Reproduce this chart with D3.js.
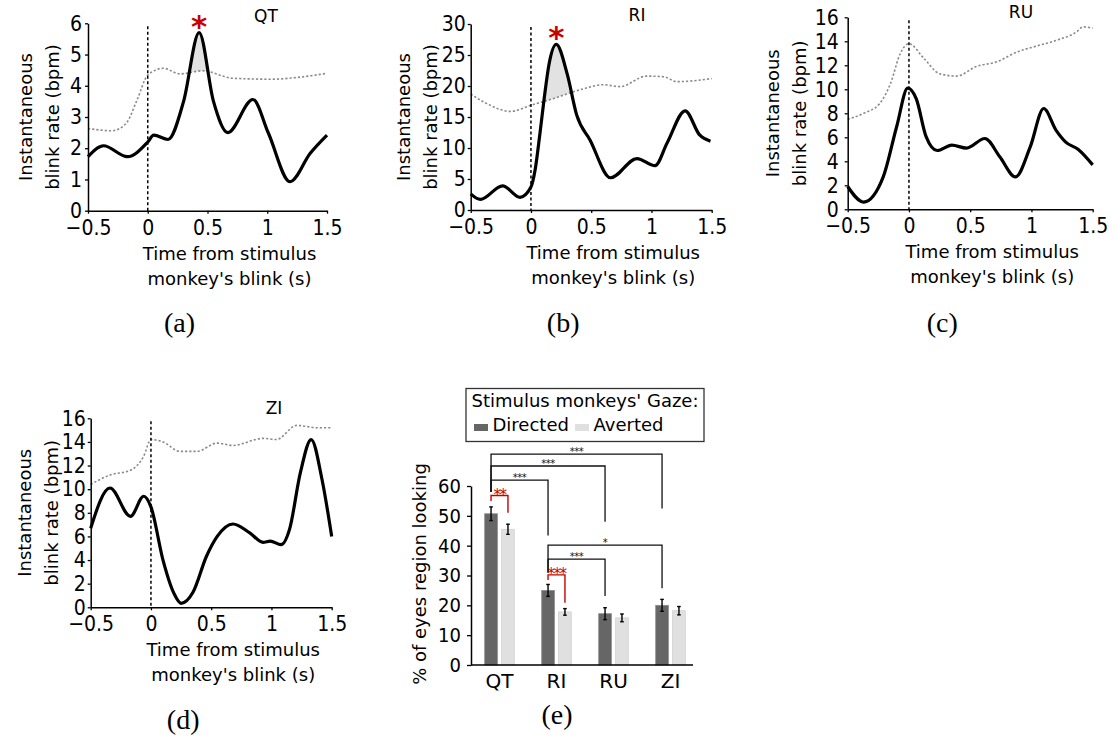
<!DOCTYPE html>
<html>
<head>
<meta charset="utf-8">
<script src="https://cdn.jsdelivr.net/npm/d3@7"></script>
<style>
  body { margin: 0; background: #fff; }
  svg { display: block; }
  text { font-family: "DejaVu Sans", Verdana, sans-serif; }
</style>
</head>
<body>
<svg id="fig" width="1117" height="738"></svg>
<script>

// ---- data: blink rate curves (time in s, rate in bpm) ----
let timeTicks = [-0.5, 0, 0.5, 1, 1.5];

let qtTime = [-0.5, -0.37, -0.17, 0, 0.05, 0.17, 0.3, 0.43, 0.55, 0.67, 0.88, 1.01, 1.19, 1.36, 1.5];
let qtBlink = [1.73, 2.08, 1.73, 2.2, 2.42, 2.28, 3.5, 5.7, 3.5, 2.5, 3.56, 2.48, 0.93, 1.84, 2.42];
let qtBaseTime = [-0.5, -0.3, -0.18, -0.09, 0, 0.13, 0.27, 0.46, 0.71, 1.04, 1.26, 1.5];
let qtBase = [2.63, 2.56, 2.8, 3.54, 4.34, 4.56, 4.38, 4.48, 4.24, 4.21, 4.27, 4.4];

let riTime = [-0.5, -0.42, -0.235, -0.09, 0, 0.034, 0.075, 0.108, 0.15, 0.21, 0.3, 0.38, 0.49, 0.66, 0.88, 1.03, 1.13, 1.28, 1.4, 1.49];
let riBlink = [2.6, 1.7, 3.9, 2.05, 3.7, 6.4, 12.4, 17.7, 23.5, 26.7, 22.0, 15.3, 11.3, 5.2, 8.3, 7.15, 10.8, 16.0, 12.1, 11.1];
let riBaseTime = [-0.5, -0.37, -0.17, 0, 0.19, 0.41, 0.6, 0.74, 0.96, 1.1, 1.21, 1.5];
let riBase = [18.7, 17.2, 15.9, 16.9, 18.0, 19.4, 20.2, 19.9, 21.6, 21.5, 20.7, 21.2];

let ruTime = [-0.5, -0.37, -0.21, -0.1, -0.01, 0.06, 0.14, 0.23, 0.35, 0.47, 0.62, 0.74, 0.87, 0.99, 1.1, 1.2, 1.28, 1.38, 1.5];
let ruBlink = [1.9, 0.6, 2.7, 6.9, 10.1, 9.2, 6.05, 4.9, 5.35, 5.1, 5.9, 4.4, 2.7, 5.2, 8.4, 6.6, 5.6, 5.0, 3.7];
let ruBaseTime = [-0.5, -0.37, -0.24, -0.15, -0.07, 0, 0.12, 0.25, 0.39, 0.55, 0.72, 0.88, 1.04, 1.21, 1.37, 1.42, 1.5];
let ruBase = [7.5, 8.0, 8.8, 10.5, 13.0, 13.8, 12.6, 11.3, 11.1, 11.9, 12.3, 13.1, 13.6, 14.1, 14.8, 15.2, 15.1];

let ziTime = [-0.5, -0.34, -0.17, -0.06, 0, 0.1, 0.19, 0.25, 0.35, 0.46, 0.55, 0.68, 0.82, 0.93, 0.99, 1.08, 1.15, 1.24, 1.33, 1.42, 1.5];
let ziBlink = [6.7, 10.1, 7.7, 9.4, 8.5, 4.0, 1.2, 0.34, 1.3, 4.3, 6.0, 7.05, 6.3, 5.5, 5.6, 5.3, 6.6, 11.4, 14.2, 10.8, 6.0];
let ziBaseTime = [-0.5, -0.34, -0.17, -0.06, 0, 0.1, 0.24, 0.38, 0.55, 0.68, 0.93, 1.04, 1.21, 1.38, 1.5];
let ziBase = [10.4, 11.2, 11.6, 12.8, 14.2, 14.0, 13.2, 13.2, 13.9, 13.7, 14.3, 14.2, 15.4, 15.2, 15.2];

// ---- data: eyes region looking (%) ----
let gazeGroups = ["QT", "RI", "RU", "ZI"];
let gazeKeys = ["Directed", "Averted"];
let directedPct = [50.7, 25.0, 17.2, 20.0];
let directedErr = [2.3, 2.0, 2.0, 2.0];
let avertedPct = [45.5, 17.8, 15.8, 18.2];
let avertedErr = [1.7, 1.1, 1.3, 1.4];
let pctTicks = [0, 10, 20, 30, 40, 50, 60];

// significance brackets (levels in % units)
let comparisons = [
    {from: ["QT", "Directed"], to: ["QT", "Averted"], level: 56.8, fromEnd: 55, toEnd: 51, label: "**", red: true},
    {from: ["QT", "Directed"], to: ["RI", "Directed"], level: 62, fromEnd: 58, toEnd: 43.4, label: "***"},
    {from: ["QT", "Directed"], to: ["RU", "Directed"], level: 66.7, fromEnd: 58, toEnd: 48, label: "***"},
    {from: ["QT", "Directed"], to: ["ZI", "Directed"], level: 70.7, fromEnd: 58, toEnd: 52.5, label: "***"},
    {from: ["RI", "Directed"], to: ["ZI", "Directed"], level: 40.2, fromEnd: 31, toEnd: 25.7, label: "*"},
    {from: ["RI", "Directed"], to: ["RU", "Directed"], level: 35.5, fromEnd: 31, toEnd: 23.1, label: "***"},
    {from: ["RI", "Directed"], to: ["RI", "Averted"], level: 30.2, fromEnd: 28.5, toEnd: 20.9, label: "***", red: true}
];


let svg = d3.select("#fig");
let RED = "#c80000";
let TICKFONT = "'DejaVu Sans Condensed', 'DejaVu Sans', sans-serif";

let panels = [
    {name: "QT", time: qtTime, blink: qtBlink, baseTime: qtBaseTime, base: qtBase, yMax: 6, yStep: 1, yPad: 3,
     left: 88, right: 327, top: 23.3, bottom: 210.7, titleX: 266, titleY: 21.5, ylab: -56, shaded: true, tag: "(a)", tagY: 332},
    {name: "RI", time: riTime, blink: riBlink, baseTime: riBaseTime, base: riBase, yMax: 30, yStep: 5, yPad: 2,
     left: 470.7, right: 711.7, top: 24, bottom: 210, titleX: 637, titleY: 20.5, ylab: -61, shaded: true, tag: "(b)", tagY: 332},
    {name: "RU", time: ruTime, blink: ruBlink, baseTime: ruBaseTime, base: ruBase, yMax: 16, yStep: 2, yPad: 6,
     left: 847.7, right: 1092.7, top: 17.3, bottom: 209.3, titleX: 1021, titleY: 17.5, ylab: -69, shaded: false, tag: "(c)", tagY: 332},
    {name: "ZI", time: ziTime, blink: ziBlink, baseTime: ziBaseTime, base: ziBase, yMax: 16, yStep: 2, yPad: 2,
     left: 90.7, right: 331.7, top: 418.3, bottom: 607.3, titleX: 274, titleY: 413.5, ylab: -60, shaded: false, tag: "(d)", tagY: 729}
];

let styleAxis = function(sel, size){
    sel.select(".domain").style("stroke", "#000").style("stroke-width", "1.5px");
    sel.selectAll(".tick line").style("stroke", "#000").style("stroke-width", "1.3px");
    sel.selectAll(".tick text").style("font-size", size + "px").style("fill", "#000")
        .style("font-family", TICKFONT);
};

let drawBlinkPanel = function(p){
    let x = d3.scaleLinear().domain([-0.5, 1.5]).range([p.left, p.right]);
    let y = d3.scaleLinear().domain([0, p.yMax]).range([p.bottom, p.top]);
    let g = svg.append("g").attr("class", "panel-" + p.name);

    let obs = p.time.map((t, i) => [t, p.blink[i]]);
    let base = p.baseTime.map((t, i) => [t, p.base[i]]);
    let curve = d3.curveMonotoneX;
    let line = d3.line().x(d => x(d[0])).y(d => y(d[1])).curve(curve);

    if(p.shaded){
        // fill where observed rate rises above the shuffled baseline
        let id = "clip-" + p.name;
        g.append("clipPath").attr("id", id).append("path")
            .attr("d", d3.area().x(d => x(d[0])).y0(p.top - 40).y1(d => y(d[1])).curve(curve)(base));
        g.append("path")
            .attr("d", d3.area().x(d => x(d[0])).y0(p.bottom).y1(d => y(d[1])).curve(curve)(obs))
            .attr("clip-path", "url(#" + id + ")")
            .style("fill", "#e2e2e2");
    }

    g.append("path").attr("d", line(base))
        .style("fill", "none").style("stroke", "#8a8a8a")
        .style("stroke-width", "1.6px").style("stroke-dasharray", "2.2,2");

    g.append("line")
        .attr("x1", x(0)).attr("x2", x(0))
        .attr("y1", p.top + 3).attr("y2", p.bottom)
        .style("stroke", "#000").style("stroke-width", "1.5px").style("stroke-dasharray", "3,2.5");

    g.append("path").attr("d", line(obs))
        .style("fill", "none").style("stroke", "#000").style("stroke-width", "3.2px");

    let yTicks = d3.range(0, p.yMax + 0.001, p.yStep);
    g.append("g").attr("transform", "translate(" + p.left + ",0)")
        .call(d3.axisLeft(y).tickValues(yTicks).tickSize(3).tickSizeOuter(0).tickPadding(p.yPad).tickFormat(d3.format("")))
        .call(styleAxis, 21);

    g.append("g").attr("transform", "translate(0," + p.bottom + ")")
        .call(d3.axisBottom(x).tickValues(timeTicks).tickSize(3).tickSizeOuter(0).tickPadding(6).tickFormat(d3.format("")))
        .call(styleAxis, 21);

    let cx = (p.left + p.right) / 2 + 22;
    g.append("text").attr("x", cx).attr("y", p.bottom + 49).attr("text-anchor", "middle")
        .style("font-size", "18px").text("Time from stimulus");
    g.append("text").attr("x", cx).attr("y", p.bottom + 74).attr("text-anchor", "middle")
        .style("font-size", "18px").text("monkey's blink (s)");

    let cy = (p.top + p.bottom) / 2;
    g.append("text").attr("transform", "translate(" + (p.left + p.ylab) + "," + cy + ") rotate(-90)")
        .attr("text-anchor", "middle").style("font-size", "18px").text("Instantaneous");
    g.append("text").attr("transform", "translate(" + (p.left + p.ylab + 27) + "," + cy + ") rotate(-90)")
        .attr("text-anchor", "middle").style("font-size", "18px").text("blink rate (bpm)");

    g.append("text").attr("x", p.titleX).attr("y", p.titleY).attr("text-anchor", "middle")
        .style("font-size", "17px").text(p.name);

    if(p.shaded){
        let peak = obs.reduce((a, b) => b[1] > a[1] ? b : a);
        g.append("text").attr("x", x(peak[0])).attr("y", y(peak[1]) + 4)
            .attr("text-anchor", "middle").style("font-size", "31px").style("font-weight", "bold")
            .style("fill", RED).text("*");
    }

    svg.append("text").attr("x", (p.left + p.right) / 2 - 28).attr("y", p.tagY)
        .attr("text-anchor", "middle").style("font-family", "'Liberation Serif', serif")
        .style("font-size", "28px").text(p.tag);
};

panels.forEach(drawBlinkPanel);


// ---- panel (e): bars ----
let xE = d3.scaleBand().domain(gazeGroups).range([471, 699]);
let xSub = d3.scaleBand().domain(gazeKeys).range([-14.8, 14.8]).paddingInner(0.25);
let yE = d3.scaleLinear().domain([0, 60]).range([665, 486]);

let barRows = [];
gazeGroups.forEach((grp, i) => {
    barRows.push({grp: grp, key: "Directed", v: directedPct[i], err: directedErr[i]});
    barRows.push({grp: grp, key: "Averted", v: avertedPct[i], err: avertedErr[i]});
});
let barCenter = (grp, key) => xE(grp) + xE.bandwidth() / 2 + xSub(key) + xSub.bandwidth() / 2;

let ge = svg.append("g").attr("class", "panel-e");

ge.selectAll(".bar").data(barRows).enter().append("rect")
    .attr("class", "bar")
    .attr("x", d => xE(d.grp) + xE.bandwidth() / 2 + xSub(d.key))
    .attr("y", d => yE(d.v))
    .attr("width", xSub.bandwidth())
    .attr("height", d => yE(0) - yE(d.v))
    .style("fill", d => d.key === "Directed" ? "#666666" : "#e0e0e0")
    .style("stroke", d => d.key === "Directed" ? "#8c8c8c" : "#d2d2d2")
    .style("stroke-width", "0.8px");

let errG = ge.selectAll(".err").data(barRows).enter().append("g").attr("class", "err");
errG.append("line")
    .attr("x1", d => barCenter(d.grp, d.key)).attr("x2", d => barCenter(d.grp, d.key))
    .attr("y1", d => yE(d.v - d.err)).attr("y2", d => yE(d.v + d.err));
errG.append("line")
    .attr("x1", d => barCenter(d.grp, d.key) - 1.8).attr("x2", d => barCenter(d.grp, d.key) + 1.8)
    .attr("y1", d => yE(d.v - d.err)).attr("y2", d => yE(d.v - d.err));
errG.append("line")
    .attr("x1", d => barCenter(d.grp, d.key) - 1.8).attr("x2", d => barCenter(d.grp, d.key) + 1.8)
    .attr("y1", d => yE(d.v + d.err)).attr("y2", d => yE(d.v + d.err));
errG.selectAll("line").style("stroke", "#000").style("stroke-width", "1.4px");

// brackets
comparisons.forEach(c => {
    let x1 = barCenter(c.from[0], c.from[1]);
    let x2 = barCenter(c.to[0], c.to[1]);
    let col = c.red ? RED : "#111";
    let path = d3.path();
    path.moveTo(x1, yE(c.fromEnd));
    path.lineTo(x1, yE(c.level));
    path.lineTo(x2, yE(c.level));
    path.lineTo(x2, yE(c.toEnd));
    ge.append("path").attr("d", path.toString())
        .style("fill", "none").style("stroke", col).style("stroke-width", c.red ? "1.4px" : "1.3px");
    ge.append("text")
        .attr("x", (x1 + x2) / 2).attr("y", yE(c.level) + (c.red ? 4.5 : 0.5))
        .attr("text-anchor", "middle")
        .style("font-size", c.red ? "15px" : "10px")
        .style("letter-spacing", c.red ? "-1.5px" : "-0.5px")
        .style("fill", col).text(c.label);
});

ge.append("g").attr("transform", "translate(471,0)")
    .call(d3.axisLeft(yE).tickValues(pctTicks).tickSize(4).tickSizeOuter(0).tickPadding(6))
    .call(styleAxis, 20);

let xAxisE = ge.append("g").attr("transform", "translate(0,665)")
    .call(d3.axisBottom(xE).tickSize(0).tickPadding(9))
    .call(styleAxis, 20);
xAxisE.select(".domain").remove();
xAxisE.selectAll(".tick text").style("font-family", "'DejaVu Sans', sans-serif");
ge.append("line").attr("x1", xE.range()[0]).attr("x2", xE.range()[1] - 6)
    .attr("y1", yE(0)).attr("y2", yE(0))
    .style("stroke", "#000").style("stroke-width", "1.5px");

ge.append("text").attr("transform", "translate(426,574) rotate(-90)")
    .attr("text-anchor", "middle").style("font-size", "18px").text("% of eyes region looking");

// legend
let lg = ge.append("g").attr("class", "legend");
lg.append("rect").attr("x", 466).attr("y", 388.5).attr("width", 238).attr("height", 53)
    .style("fill", "#fff").style("stroke", "#333").style("stroke-width", "1.3px");
lg.append("text").attr("x", 471.5).attr("y", 406.5).style("font-size", "18px").text("Stimulus monkeys' Gaze:");
let legendX = [474, 575];
gazeKeys.forEach((k, i) => {
    lg.append("rect").attr("x", legendX[i]).attr("y", 424).attr("width", 14).attr("height", 7)
        .style("fill", k === "Directed" ? "#666666" : "#e0e0e0");
    lg.append("text").attr("x", legendX[i] + 18.5).attr("y", 431).style("font-size", "18px").text(k);
});

svg.append("text").attr("x", 557).attr("y", 724).attr("text-anchor", "middle")
    .style("font-family", "'Liberation Serif', serif").style("font-size", "28px").text("(e)");

</script>
</body>
</html>
